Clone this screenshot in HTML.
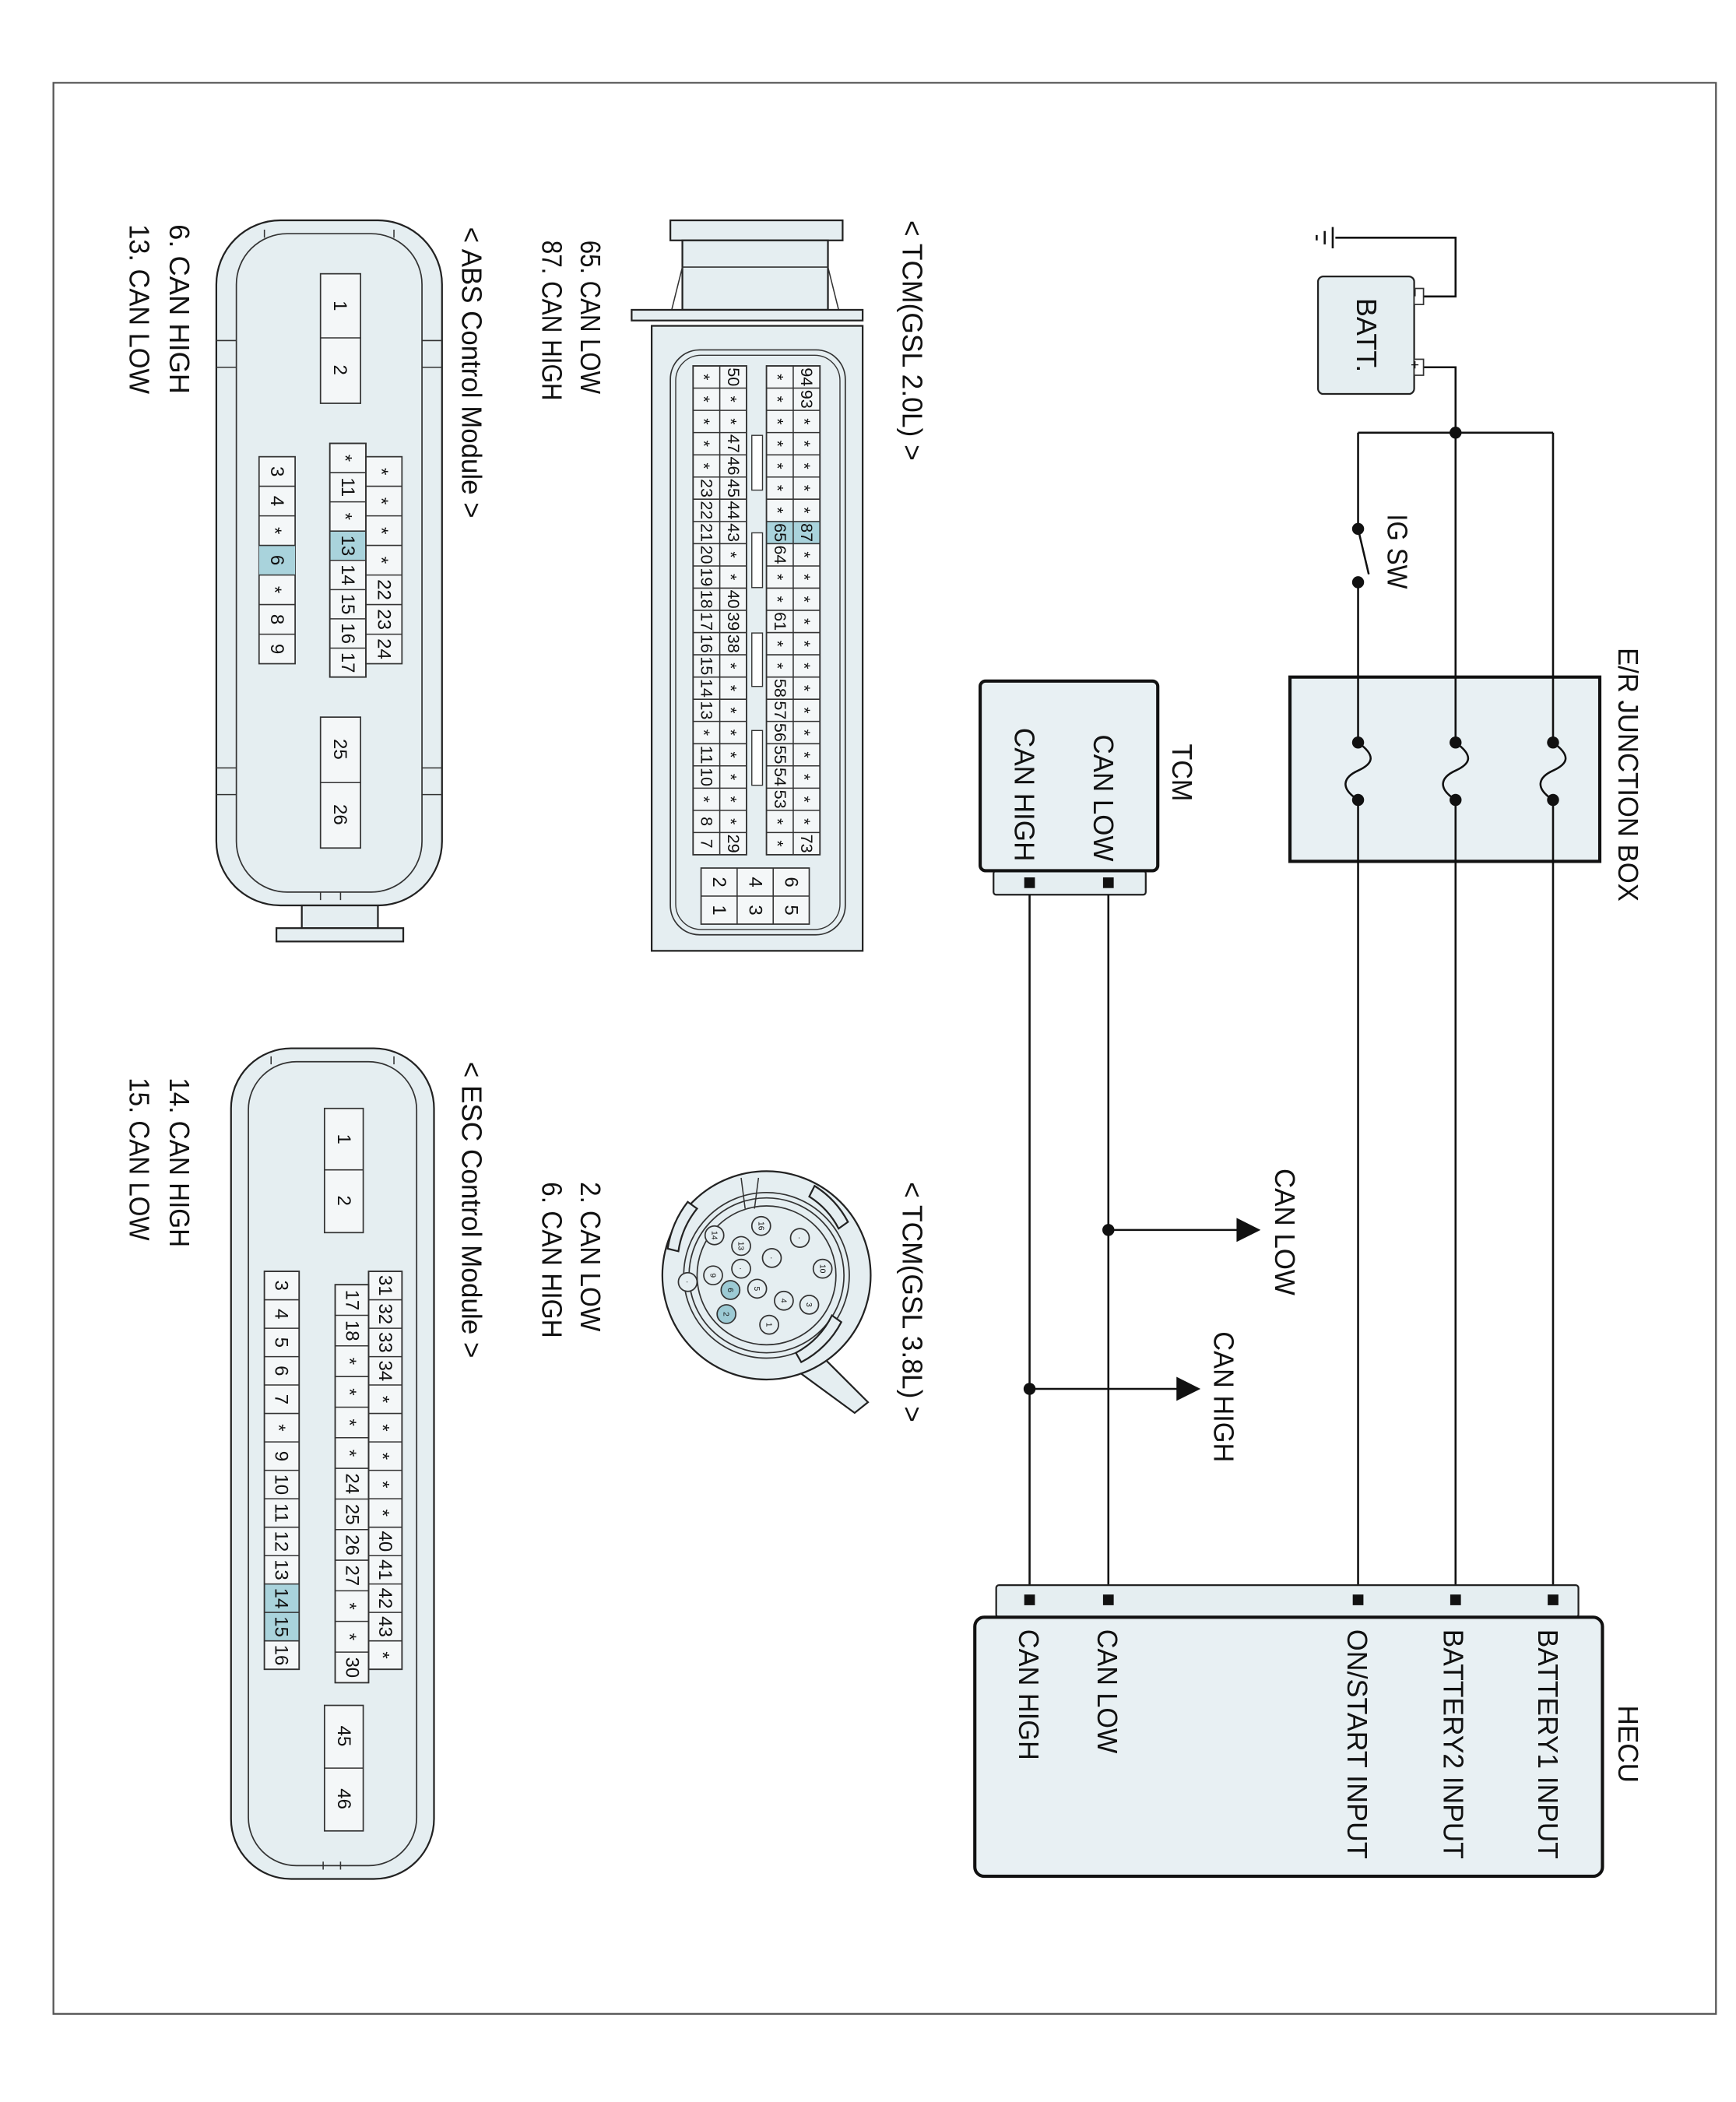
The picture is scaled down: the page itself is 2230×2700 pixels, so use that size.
<!DOCTYPE html>
<html><head><meta charset="utf-8"><style>
html,body{margin:0;padding:0;background:#fff}
svg{display:block}
text{font-family:"Liberation Sans",Arial,sans-serif;fill:#111}
.L{font-size:21px}
.p{font-size:12.5px;text-anchor:middle}
.s{font-size:14px;text-anchor:middle}
.c{fill:#e5eef1;stroke:#222;stroke-width:1.3}
.w{fill:none;stroke:#111;stroke-width:1.5}
.g{fill:none;stroke:#333;stroke-width:0.9}
.h{fill:#a9d3dc}
</style></head><body>
<svg width="2230" height="2700" viewBox="0 0 1300 1574" xmlns="http://www.w3.org/2000/svg">
<rect x="0" y="0" width="1300" height="1574" fill="#fff"/>
<rect x="40" y="62" width="1245" height="1446" fill="none" stroke="#555" stroke-width="1.3"/>
<g transform="translate(1300,0) rotate(90)">

<path class="w" d="M178,300 V210 H222 V241 M275,241 V210 H324"/>
<path class="w" d="M170,302 H186 M173,308 H183 M176,314 H180"/>
<rect x="207" y="241" width="88" height="72" rx="4" class="c"/>
<rect x="216" y="234" width="12" height="7" fill="#fff" stroke="#333"/>
<rect x="269" y="234" width="12" height="7" fill="#fff" stroke="#333"/>
<text x="216" y="244" font-size="11">−</text>
<text x="270" y="244" font-size="11">+</text>
<text x="251" y="284" class="L" text-anchor="middle">BATT.</text>
<path class="w" d="M324,137 V283"/>
<circle cx="324" cy="210" r="4.5" fill="#111"/>
<path class="w" d="M324,137 H1198 M324,210 H1198 M324,283 H396 M436,283 H1198"/>
<circle cx="396" cy="283" r="4.5" fill="#111"/><circle cx="436" cy="283" r="4.5" fill="#111"/>
<path class="w" d="M396,283 L430,275"/>
<text x="385" y="261" class="L" textLength="56" lengthAdjust="spacingAndGlyphs">IG SW</text>

<rect x="507" y="102" width="138" height="232" fill="#e8f0f3" stroke="#111" stroke-width="2.4"/>
<g class="w">
<path d="M507,137 H556 M599,137 H645 M507,210 H556 M599,210 H645 M507,283 H556 M599,283 H645"/>
<path d="M556,137 C566,123 572,126 577,137 C582,148 590,151 599,137"/>
<path d="M556,210 C566,196 572,199 577,210 C582,221 590,224 599,210"/>
<path d="M556,283 C566,269 572,272 577,283 C582,294 590,297 599,283"/>
</g>
<circle cx="556" cy="137" r="4.5" fill="#111"/><circle cx="599" cy="137" r="4.5" fill="#111"/>
<circle cx="556" cy="210" r="4.5" fill="#111"/><circle cx="599" cy="210" r="4.5" fill="#111"/>
<circle cx="556" cy="283" r="4.5" fill="#111"/><circle cx="599" cy="283" r="4.5" fill="#111"/>
<text x="485" y="88" class="L" textLength="190" lengthAdjust="spacingAndGlyphs">E/R JUNCTION BOX</text>

<rect x="652" y="442" width="18" height="114" class="c" rx="2"/>
<rect x="510" y="433" width="142" height="133" rx="4" fill="#e8f0f3" stroke="#111" stroke-width="2.4"/>
<rect x="657" y="466" width="8" height="8" fill="#111"/><rect x="657" y="525" width="8" height="8" fill="#111"/>
<text x="557" y="422" class="L" textLength="43" lengthAdjust="spacingAndGlyphs">TCM</text>
<text x="550" y="481" class="L" textLength="95" lengthAdjust="spacingAndGlyphs">CAN LOW</text>
<text x="545" y="540" class="L" textLength="100" lengthAdjust="spacingAndGlyphs">CAN HIGH</text>
<path class="w" d="M670,470 H1198 M670,529 H1198"/>
<circle cx="921" cy="470" r="4.5" fill="#111"/>
<path class="w" d="M921,470 V372"/>
<path d="M912,374 L930,374 L921,356 Z" fill="#111"/>
<text x="875" y="345" class="L" textLength="95" lengthAdjust="spacingAndGlyphs">CAN LOW</text>
<circle cx="1040" cy="529" r="4.5" fill="#111"/>
<path class="w" d="M1040,529 V417"/>
<path d="M1031,419 L1049,419 L1040,401 Z" fill="#111"/>
<text x="997" y="391" class="L" textLength="98" lengthAdjust="spacingAndGlyphs">CAN HIGH</text>

<rect x="1187" y="118" width="24" height="436" class="c" rx="2"/>
<rect x="1211" y="100" width="194" height="470" rx="7" fill="#e8f0f3" stroke="#111" stroke-width="2.4"/>
<rect x="1194" y="133" width="8" height="8" fill="#111"/><rect x="1194" y="206" width="8" height="8" fill="#111"/>
<rect x="1194" y="279" width="8" height="8" fill="#111"/><rect x="1194" y="466" width="8" height="8" fill="#111"/>
<rect x="1194" y="525" width="8" height="8" fill="#111"/>
<text x="1277" y="88" class="L" textLength="58" lengthAdjust="spacingAndGlyphs">HECU</text>
<text x="1220" y="148" class="L" textLength="172" lengthAdjust="spacingAndGlyphs">BATTERY1 INPUT</text>
<text x="1220" y="219" class="L" textLength="172" lengthAdjust="spacingAndGlyphs">BATTERY2 INPUT</text>
<text x="1220" y="291" class="L" textLength="172" lengthAdjust="spacingAndGlyphs">ON/START INPUT</text>
<text x="1220" y="478" class="L" textLength="93" lengthAdjust="spacingAndGlyphs">CAN LOW</text>
<text x="1220" y="537" class="L" textLength="98" lengthAdjust="spacingAndGlyphs">CAN HIGH</text>

<text x="165" y="624" class="L" textLength="180" lengthAdjust="spacingAndGlyphs">&lt; TCM(GSL 2.0L) &gt;</text>
<text x="180" y="865" class="L" textLength="115" lengthAdjust="spacingAndGlyphs">65. CAN LOW</text>
<text x="180" y="894" class="L" textLength="120" lengthAdjust="spacingAndGlyphs">87. CAN HIGH</text>
<text x="170" y="954" class="L" textLength="218" lengthAdjust="spacingAndGlyphs">&lt; ABS Control Module &gt;</text>
<text x="168" y="1173" class="L" textLength="127" lengthAdjust="spacingAndGlyphs">6. CAN HIGH</text>
<text x="168" y="1203" class="L" textLength="127" lengthAdjust="spacingAndGlyphs">13. CAN LOW</text>
<text x="885" y="624" class="L" textLength="180" lengthAdjust="spacingAndGlyphs">&lt; TCM(GSL 3.8L) &gt;</text>
<text x="885" y="865" class="L" textLength="112" lengthAdjust="spacingAndGlyphs">2. CAN LOW</text>
<text x="885" y="894" class="L" textLength="117" lengthAdjust="spacingAndGlyphs">6. CAN HIGH</text>
<text x="795" y="954" class="L" textLength="222" lengthAdjust="spacingAndGlyphs">&lt; ESC Control Module &gt;</text>
<text x="807" y="1173" class="L" textLength="127" lengthAdjust="spacingAndGlyphs">14. CAN HIGH</text>
<text x="807" y="1203" class="L" textLength="122" lengthAdjust="spacingAndGlyphs">15. CAN LOW</text>

<rect x="165" y="669" width="15" height="129" class="c"/>
<rect x="180" y="680" width="52" height="109" class="c"/>
<path class="g" d="M200,680 L232,672 M200,789 L232,797 M200,680 V789"/>
<rect x="232" y="654" width="8" height="173" class="c"/>
<rect x="244" y="654" width="468" height="158" class="c"/>
<rect x="262" y="667" width="438" height="131" rx="22" fill="none" stroke="#333"/>
<rect x="266" y="671" width="430" height="123" rx="19" fill="none" stroke="#333" stroke-width="0.8"/>
<rect x="274" y="686" width="366" height="40" fill="#f4f7f8" stroke="#333"/>
<rect x="274" y="741" width="366" height="40" fill="#f4f7f8" stroke="#333"/>
<rect x="390.5" y="686" width="16.6" height="40" class="h"/>
<g class="g">
<path d="M274,706 H640 M274,761 H640"/>
<path d="M290.6,686V726M307.3,686V726M323.9,686V726M340.6,686V726M357.2,686V726M373.8,686V726M390.5,686V726M407.1,686V726M423.8,686V726M440.4,686V726M457,686V726M473.7,686V726M490.3,686V726M507,686V726M523.6,686V726M540.2,686V726M556.9,686V726M573.5,686V726M590.2,686V726M606.8,686V726M623.4,686V726"/>
<path d="M290.6,741V781M307.3,741V781M323.9,741V781M340.6,741V781M357.2,741V781M373.8,741V781M390.5,741V781M407.1,741V781M423.8,741V781M440.4,741V781M457,741V781M473.7,741V781M490.3,741V781M507,741V781M523.6,741V781M540.2,741V781M556.9,741V781M573.5,741V781M590.2,741V781M606.8,741V781M623.4,741V781"/>
</g>
<rect x="274" y="686" width="366" height="40" fill="none" stroke="#333"/>
<rect x="274" y="741" width="366" height="40" fill="none" stroke="#333"/>
<rect x="326" y="729" width="41" height="8" fill="#fff" stroke="#333" stroke-width="0.8"/>
<rect x="399" y="729" width="41" height="8" fill="#fff" stroke="#333" stroke-width="0.8"/>
<rect x="474" y="729" width="40" height="8" fill="#fff" stroke="#333" stroke-width="0.8"/>
<rect x="547" y="729" width="41" height="8" fill="#fff" stroke="#333" stroke-width="0.8"/>
<g class="p">
<text x="282.3" y="700" textLength="14" lengthAdjust="spacingAndGlyphs">94</text><text x="298.9" y="700" textLength="14" lengthAdjust="spacingAndGlyphs">93</text><text x="315.6" y="702">*</text><text x="332.2" y="702">*</text><text x="348.9" y="702">*</text><text x="365.5" y="702">*</text><text x="382.1" y="702">*</text><text x="398.8" y="700" textLength="14" lengthAdjust="spacingAndGlyphs">87</text><text x="415.4" y="702">*</text><text x="432.1" y="702">*</text><text x="448.7" y="702">*</text><text x="465.3" y="702">*</text><text x="482" y="702">*</text><text x="498.6" y="702">*</text><text x="515.3" y="702">*</text><text x="531.9" y="702">*</text><text x="548.5" y="702">*</text><text x="565.2" y="702">*</text><text x="581.8" y="702">*</text><text x="598.5" y="702">*</text><text x="615.1" y="702">*</text><text x="631.7" y="700" textLength="14" lengthAdjust="spacingAndGlyphs">73</text>
<text x="282.3" y="722">*</text><text x="298.9" y="722">*</text><text x="315.6" y="722">*</text><text x="332.2" y="722">*</text><text x="348.9" y="722">*</text><text x="365.5" y="722">*</text><text x="382.1" y="722">*</text><text x="398.8" y="720" textLength="14" lengthAdjust="spacingAndGlyphs">65</text><text x="415.4" y="720" textLength="14" lengthAdjust="spacingAndGlyphs">64</text><text x="432.1" y="722">*</text><text x="448.7" y="722">*</text><text x="465.3" y="720" textLength="14" lengthAdjust="spacingAndGlyphs">61</text><text x="482" y="722">*</text><text x="498.6" y="722">*</text><text x="515.3" y="720" textLength="14" lengthAdjust="spacingAndGlyphs">58</text><text x="531.9" y="720" textLength="14" lengthAdjust="spacingAndGlyphs">57</text><text x="548.5" y="720" textLength="14" lengthAdjust="spacingAndGlyphs">56</text><text x="565.2" y="720" textLength="14" lengthAdjust="spacingAndGlyphs">55</text><text x="581.8" y="720" textLength="14" lengthAdjust="spacingAndGlyphs">54</text><text x="598.5" y="720" textLength="14" lengthAdjust="spacingAndGlyphs">53</text><text x="615.1" y="722">*</text><text x="631.7" y="722">*</text>
<text x="282.3" y="755" textLength="14" lengthAdjust="spacingAndGlyphs">50</text><text x="298.9" y="757">*</text><text x="315.6" y="757">*</text><text x="332.2" y="755" textLength="14" lengthAdjust="spacingAndGlyphs">47</text><text x="348.9" y="755" textLength="14" lengthAdjust="spacingAndGlyphs">46</text><text x="365.5" y="755" textLength="14" lengthAdjust="spacingAndGlyphs">45</text><text x="382.1" y="755" textLength="14" lengthAdjust="spacingAndGlyphs">44</text><text x="398.8" y="755" textLength="14" lengthAdjust="spacingAndGlyphs">43</text><text x="415.4" y="757">*</text><text x="432.1" y="757">*</text><text x="448.7" y="755" textLength="14" lengthAdjust="spacingAndGlyphs">40</text><text x="465.3" y="755" textLength="14" lengthAdjust="spacingAndGlyphs">39</text><text x="482" y="755" textLength="14" lengthAdjust="spacingAndGlyphs">38</text><text x="498.6" y="757">*</text><text x="515.3" y="757">*</text><text x="531.9" y="757">*</text><text x="548.5" y="757">*</text><text x="565.2" y="757">*</text><text x="581.8" y="757">*</text><text x="598.5" y="757">*</text><text x="615.1" y="757">*</text><text x="631.7" y="755" textLength="14" lengthAdjust="spacingAndGlyphs">29</text>
<text x="282.3" y="777">*</text><text x="298.9" y="777">*</text><text x="315.6" y="777">*</text><text x="332.2" y="777">*</text><text x="348.9" y="777">*</text><text x="365.5" y="775" textLength="14" lengthAdjust="spacingAndGlyphs">23</text><text x="382.1" y="775" textLength="14" lengthAdjust="spacingAndGlyphs">22</text><text x="398.8" y="775" textLength="14" lengthAdjust="spacingAndGlyphs">21</text><text x="415.4" y="775" textLength="14" lengthAdjust="spacingAndGlyphs">20</text><text x="432.1" y="775" textLength="14" lengthAdjust="spacingAndGlyphs">19</text><text x="448.7" y="775" textLength="14" lengthAdjust="spacingAndGlyphs">18</text><text x="465.3" y="775" textLength="14" lengthAdjust="spacingAndGlyphs">17</text><text x="482" y="775" textLength="14" lengthAdjust="spacingAndGlyphs">16</text><text x="498.6" y="775" textLength="14" lengthAdjust="spacingAndGlyphs">15</text><text x="515.3" y="775" textLength="14" lengthAdjust="spacingAndGlyphs">14</text><text x="531.9" y="775" textLength="14" lengthAdjust="spacingAndGlyphs">13</text><text x="548.5" y="777">*</text><text x="565.2" y="775" textLength="14" lengthAdjust="spacingAndGlyphs">11</text><text x="581.8" y="775" textLength="14" lengthAdjust="spacingAndGlyphs">10</text><text x="598.5" y="777">*</text><text x="615.1" y="775">8</text><text x="631.7" y="775">7</text>
</g>
<rect x="650" y="694" width="42" height="81" fill="#f4f7f8" stroke="#333"/>
<path class="g" d="M650,721 H692 M650,748 H692 M671,694 V775"/>
<g class="s"><text x="660.5" y="712">6</text><text x="681.5" y="712">5</text><text x="660.5" y="739">4</text><text x="681.5" y="739">3</text><text x="660.5" y="766">2</text><text x="681.5" y="766">1</text></g>

<rect x="165" y="969" width="513" height="169" rx="48" class="c"/>
<rect x="175" y="984" width="493" height="139" rx="38" fill="none" stroke="#333"/>
<rect x="678" y="1017" width="17" height="57" class="c"/>
<rect x="695" y="998" width="10" height="95" class="c"/>
<path class="g" d="M255,969 V984 M275,969 V984 M255,1123 V1138 M275,1123 V1138 M575,969 V984 M595,969 V984 M575,1123 V1138 M595,1123 V1138"/>
<path class="g" d="M172,1005 H178 M172,1102 H178 M668,1045 H674 M668,1060 H674"/>
<rect x="205" y="1030" width="97" height="30" fill="#f4f7f8" stroke="#333"/>
<path class="g" d="M253,1030 V1060"/>
<rect x="537" y="1030" width="98" height="30" fill="#f4f7f8" stroke="#333"/>
<path class="g" d="M586,1030 V1060"/>
<g class="s"><text x="229" y="1050">1</text><text x="277" y="1050">2</text><text x="561" y="1050">25</text><text x="610" y="1050">26</text></g>
<rect x="332" y="1026" width="175" height="27" fill="#f4f7f8" stroke="#333"/>
<rect x="397.7" y="1026" width="21.9" height="27" class="h"/>
<rect x="342" y="999" width="155" height="27" fill="#f4f7f8" stroke="#333"/>
<rect x="342" y="1079" width="155" height="27" fill="#f4f7f8" stroke="#333"/>
<rect x="408.4" y="1079" width="22.2" height="27" class="h"/>
<g class="g">
<path d="M353.9,1026V1053M375.8,1026V1053M397.7,1026V1053M419.6,1026V1053M441.5,1026V1053M463.4,1026V1053M485.3,1026V1053"/>
<path d="M364.1,999V1026M386.3,999V1026M408.4,999V1026M430.6,999V1026M452.7,999V1026M474.9,999V1026"/>
<path d="M364.1,1079V1106M386.3,1079V1106M408.4,1079V1106M430.6,1079V1106M452.7,1079V1106M474.9,1079V1106"/>
</g>
<rect x="332" y="1026" width="175" height="27" fill="none" stroke="#333"/>
<g class="s">
<text x="343" y="1046">*</text><text x="364.8" y="1044">11</text><text x="386.7" y="1046">*</text><text x="408.6" y="1044">13</text><text x="430.5" y="1044">14</text><text x="452.4" y="1044">15</text><text x="474.3" y="1044">16</text><text x="496.2" y="1044">17</text>
<text x="353.1" y="1019">*</text><text x="375.2" y="1019">*</text><text x="397.4" y="1019">*</text><text x="419.5" y="1019">*</text><text x="441.6" y="1017">22</text><text x="463.8" y="1017">23</text><text x="485.9" y="1017">24</text>
<text x="353.1" y="1097">3</text><text x="375.2" y="1097">4</text><text x="397.4" y="1099">*</text><text x="419.5" y="1097">6</text><text x="441.6" y="1099">*</text><text x="463.8" y="1097">8</text><text x="485.9" y="1097">9</text>
</g>

<path d="M1010,690 L1050,650 L1058,660 L1025,705 Z" class="c"/>
<circle cx="955" cy="726" r="78" class="c"/>
<circle cx="955" cy="726" r="62" fill="none" stroke="#333"/>
<circle cx="955" cy="726" r="58" fill="none" stroke="#333"/>
<circle cx="955" cy="726" r="52" fill="#e5eef1" stroke="#333"/>
<path class="c" d="M888,690 A70,70 0 0 1 915,665 L920,672 A62,62 0 0 0 896,694 Z"/>
<path class="c" d="M990,670 A70,70 0 0 1 1020,700 L1013,704 A62,62 0 0 0 985,677 Z"/>
<path class="c" d="M935,800 A75,75 0 0 1 900,785 L905,778 A66,66 0 0 0 937,792 Z"/>
<path class="g" d="M882,745 L905,742 M882,732 L905,735"/>
<g font-size="6" text-anchor="middle">
<circle cx="918" cy="730" r="7" fill="#e5eef1" stroke="#333"/><text x="918" y="732">16</text>
<circle cx="927" cy="701" r="7" fill="#e5eef1" stroke="#333"/><text x="927" y="703">·</text>
<circle cx="950" cy="684" r="7" fill="#e5eef1" stroke="#333"/><text x="950" y="686">10</text>
<circle cx="933" cy="745" r="7" fill="#e5eef1" stroke="#333"/><text x="933" y="747">13</text>
<circle cx="925" cy="765" r="7" fill="#e5eef1" stroke="#333"/><text x="925" y="767">14</text>
<circle cx="942" cy="722" r="7" fill="#e5eef1" stroke="#333"/><text x="942" y="724">·</text>
<circle cx="950" cy="745" r="7" fill="#e5eef1" stroke="#333"/><text x="950" y="747">·</text>
<circle cx="955" cy="766" r="7" fill="#e5eef1" stroke="#333"/><text x="955" y="768">9</text>
<circle cx="965" cy="733" r="7" fill="#e5eef1" stroke="#333"/><text x="965" y="735">5</text>
<circle cx="966" cy="753" r="7" fill="#9ccad4" stroke="#333"/><text x="966" y="755">6</text>
<circle cx="977" cy="694" r="7" fill="#e5eef1" stroke="#333"/><text x="977" y="696">3</text>
<circle cx="974" cy="713" r="7" fill="#e5eef1" stroke="#333"/><text x="974" y="715">4</text>
<circle cx="984" cy="756" r="7" fill="#9ccad4" stroke="#333"/><text x="984" y="758">2</text>
<circle cx="992" cy="724" r="7" fill="#e5eef1" stroke="#333"/><text x="992" y="726">1</text>
<circle cx="960" cy="785" r="7" fill="#e5eef1" stroke="#333"/><text x="960" y="787">·</text>
</g>

<rect x="785" y="975" width="622" height="152" rx="45" class="c"/>
<rect x="795" y="988" width="602" height="126" rx="36" fill="none" stroke="#333"/>
<path class="g" d="M791,1005 H797 M791,1097 H797 M1394,1045 H1400 M1394,1058 H1400"/>
<rect x="830" y="1028" width="93" height="29" fill="#f4f7f8" stroke="#333"/>
<path class="g" d="M876,1028 V1057"/>
<rect x="1277" y="1028" width="94" height="29" fill="#f4f7f8" stroke="#333"/>
<path class="g" d="M1324,1028 V1057"/>
<g class="s"><text x="853" y="1047">1</text><text x="899" y="1047">2</text><text x="1300" y="1047">45</text><text x="1347" y="1047">46</text></g>
<rect x="952" y="999" width="298" height="25" fill="#f4f7f8" stroke="#333"/>
<rect x="962" y="1024" width="298" height="25" fill="#f4f7f8" stroke="#333"/>
<rect x="952" y="1076" width="298" height="26" fill="#f4f7f8" stroke="#333"/>
<rect x="1186.1" y="1076" width="42.6" height="26" class="h"/>
<g class="g">
<path d="M973.3,999V1024M994.6,999V1024M1015.9,999V1024M1037.1,999V1024M1058.4,999V1024M1079.7,999V1024M1101,999V1024M1122.3,999V1024M1143.6,999V1024M1164.9,999V1024M1186.1,999V1024M1207.4,999V1024M1228.7,999V1024"/>
<path d="M973.3,1076V1102M994.6,1076V1102M1015.9,1076V1102M1037.1,1076V1102M1058.4,1076V1102M1079.7,1076V1102M1101,1076V1102M1122.3,1076V1102M1143.6,1076V1102M1164.9,1076V1102M1186.1,1076V1102M1207.4,1076V1102M1228.7,1076V1102"/>
<path d="M984.9,1024V1049M1007.8,1024V1049M1030.8,1024V1049M1053.7,1024V1049M1076.6,1024V1049M1099.5,1024V1049M1122.5,1024V1049M1145.4,1024V1049M1168.3,1024V1049M1191.2,1024V1049M1214.1,1024V1049M1237.1,1024V1049"/>
</g>
<rect x="952" y="999" width="298" height="25" fill="none" stroke="#333"/>
<rect x="962" y="1024" width="298" height="25" fill="none" stroke="#333"/>
<rect x="952" y="1076" width="298" height="26" fill="none" stroke="#333"/>
<g class="s">
<text x="962.6" y="1016">31</text><text x="983.9" y="1016">32</text><text x="1005.2" y="1016">33</text><text x="1026.5" y="1016">34</text><text x="1047.8" y="1018">*</text><text x="1069.1" y="1018">*</text><text x="1090.4" y="1018">*</text><text x="1111.6" y="1018">*</text><text x="1132.9" y="1018">*</text><text x="1154.2" y="1016">40</text><text x="1175.5" y="1016">41</text><text x="1196.8" y="1016">42</text><text x="1218.1" y="1016">43</text><text x="1239.4" y="1018">*</text>
<text x="973.5" y="1041">17</text><text x="996.4" y="1041">18</text><text x="1019.3" y="1043">*</text><text x="1042.3" y="1043">*</text><text x="1065.2" y="1043">*</text><text x="1088.1" y="1043">*</text><text x="1111" y="1041">24</text><text x="1134" y="1041">25</text><text x="1156.9" y="1041">26</text><text x="1179.8" y="1041">27</text><text x="1202.7" y="1043">*</text><text x="1225.6" y="1043">*</text><text x="1248.6" y="1041">30</text>
<text x="962.6" y="1094">3</text><text x="983.9" y="1094">4</text><text x="1005.2" y="1094">5</text><text x="1026.5" y="1094">6</text><text x="1047.8" y="1094">7</text><text x="1069.1" y="1096">*</text><text x="1090.4" y="1094">9</text><text x="1111.6" y="1094">10</text><text x="1132.9" y="1094">11</text><text x="1154.2" y="1094">12</text><text x="1175.5" y="1094">13</text><text x="1196.8" y="1094">14</text><text x="1218.1" y="1094">15</text><text x="1239.4" y="1094">16</text>
</g>
</g>
</svg>
</body></html>
